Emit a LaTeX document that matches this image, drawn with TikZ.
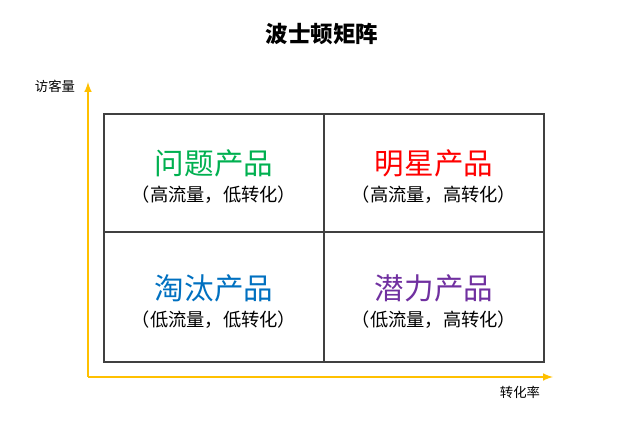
\documentclass[tikz,border=0pt]{standalone}
\usepackage{fontspec}
\setmainfont{Noto Sans CJK SC}
\usetikzlibrary{positioning}
\definecolor{axisyellow}{HTML}{FFC000}
\definecolor{qgreen}{HTML}{00B050}
\definecolor{qred}{HTML}{FF0000}
\definecolor{qblue}{HTML}{0070C0}
\definecolor{qpurple}{HTML}{7030A0}
\definecolor{boxgray}{HTML}{404040}
\newcommand{\fwparen}[1]{\makebox[1em][r]{（}#1\makebox[1em][l]{）}}
\tikzset{
  quadname/.style={font=\fontsize{21}{25}\selectfont, inner sep=0pt},
  quadnote/.style={font=\fontsize{13}{15}\selectfont, inner sep=0pt},
  axislabel/.style={font=\fontsize{9.5}{12}\selectfont, inner sep=0pt},
  axisline/.style={axisyellow, line width=1.4pt, -latex},
}
\begin{document}
\begin{tikzpicture}[x=0.025cm, y=-0.025cm]
  \useasboundingbox (0,0) rectangle (640,439);
  \node[font=\fontsize{16}{19}\selectfont\bfseries, inner sep=0pt] (title) at (322,34) {波士顿矩阵};
  % axes
  \coordinate (o) at (88,377);
  \coordinate (ytip) at (88,82);
  \coordinate (xtip) at (553,377);
  \draw[axisline] (o) -- (ytip);
  \draw[axisline] (o) -- (xtip);
  \node[axislabel] (ylab) at (55,86) {访客量};
  \node[axislabel] (xlab) at (520,392) {转化率};
  % grid
  \draw[boxgray, line width=1pt] (104,114) rectangle (544,362);
  \draw[boxgray, line width=1pt] (324,114) -- (324,362);
  \draw[boxgray, line width=1pt] (104,232) -- (544,232);
  % quadrants
  \node[quadname, qgreen] (q1) at (214,163) {问题产品};
  \node[quadnote, below=6pt of q1] (n1) {\fwparen{高流量，低转化}};
  \node[quadname, qred] (q2) at (434,163) {明星产品};
  \node[quadnote, below=6pt of q2] (n2) {\fwparen{高流量，高转化}};
  \node[quadname, qblue] (q3) at (214,288) {淘汰产品};
  \node[quadnote, below=6pt of q3] (n3) {\fwparen{低流量，低转化}};
  \node[quadname, qpurple] (q4) at (434,288) {潜力产品};
  \node[quadnote, below=6pt of q4] (n4) {\fwparen{低流量，高转化}};
\end{tikzpicture}
\end{document}
